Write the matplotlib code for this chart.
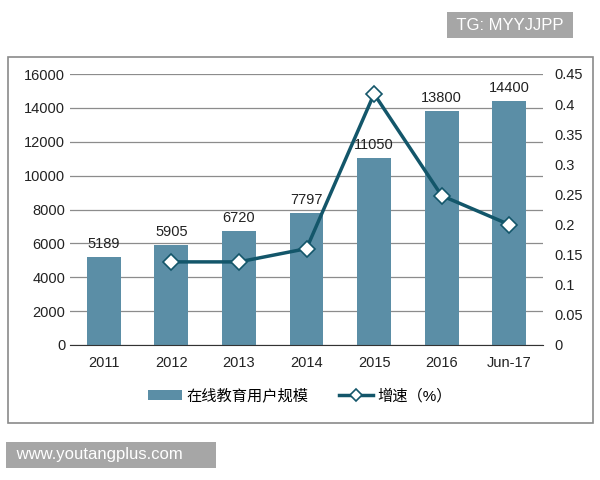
import matplotlib.pyplot as plt
from matplotlib.patches import Rectangle

plt.rcParams['font.family'] = ['Liberation Sans', 'Noto Sans CJK SC', 'DejaVu Sans']

categories = ["2011", "2012", "2013", "2014", "2015", "2016", "Jun-17"]
users = [5189, 5905, 6720, 7797, 11050, 13800, 14400]
growth_x = ["2012", "2013", "2014", "2015", "2016", "Jun-17"]
growth = [0.138, 0.138, 0.160, 0.417, 0.248, 0.200]

BAR_COLOR = "#5b8ea6"
LINE_COLOR = "#13566a"
GRID = "#8c8c8c"

fig = plt.figure(figsize=(6, 4.8), dpi=100)
fig.patches.append(Rectangle((8 / 600, 1 - 423 / 480), 585 / 600, 366 / 480,
                             transform=fig.transFigure, fill=False,
                             edgecolor="#8a8a8a", linewidth=1.2))

ax = fig.add_axes([70 / 600, 1 - 345 / 480, 473 / 600, 271 / 480])
x = list(range(len(categories)))
bars = ax.bar(x, users, width=0.5, color=BAR_COLOR, zorder=2,
              label="在线教育用户规模")
for xi, v in zip(x, users):
    ax.text(xi, v + 350, str(v), ha="center", va="bottom", fontsize=10.5,
            color="#222222", zorder=5)

ax.set_xlim(-0.5, len(categories) - 0.5)
ax.set_ylim(0, 16000)
ax.set_yticks(range(0, 16001, 2000))
ax.set_xticks(x)
ax.set_xticklabels(categories)
ax.yaxis.grid(True, color=GRID, linewidth=0.9, zorder=0)
ax.set_axisbelow(True)
for s in ["top", "right", "left"]:
    ax.spines[s].set_visible(False)
ax.spines["bottom"].set_color("#333333")
ax.tick_params(axis="both", length=0, labelsize=10.5, colors="#222222")
ax.tick_params(axis="x", pad=8)

ax2 = ax.twinx()
gx = [categories.index(c) for c in growth_x]
ax2.plot(gx, growth, color=LINE_COLOR, linewidth=2.5, marker="D",
         markersize=8.5, markerfacecolor="white", markeredgecolor=LINE_COLOR,
         markeredgewidth=1.2, label="增速（%）", zorder=4)
ax2.set_ylim(0, 0.45)
ax2.set_yticks([0, 0.05, 0.1, 0.15, 0.2, 0.25, 0.3, 0.35, 0.4, 0.45])
ax2.set_yticklabels(["0", "0.05", "0.1", "0.15", "0.2", "0.25", "0.3",
                     "0.35", "0.4", "0.45"])
for s in ["top", "right", "left", "bottom"]:
    ax2.spines[s].set_visible(False)
ax2.tick_params(axis="y", length=0, labelsize=10.5, colors="#222222", pad=8)

h1, l1 = ax.get_legend_handles_labels()
h2, l2 = ax2.get_legend_handles_labels()
fig.legend(h1 + h2, l1 + l2, loc="center", bbox_to_anchor=(0.5, 1 - 396 / 480),
           ncol=2, frameon=False, fontsize=11, handlelength=2.2,
           columnspacing=2.0, handletextpad=0.3, markerscale=0.7)

fig.text(452 / 600, 1 - 25 / 480, " TG: MYYJJPP ", fontsize=12, color="white",
         va="center", ha="left",
         bbox=dict(facecolor="#a6a6a6", edgecolor="none", pad=4))
fig.text(12 / 600, 1 - 455 / 480, " www.youtangplus.com      ", fontsize=12,
         color="white", va="center", ha="left",
         bbox=dict(facecolor="#a6a6a6", edgecolor="none", pad=4))

fig.savefig("out.png", dpi=100)
